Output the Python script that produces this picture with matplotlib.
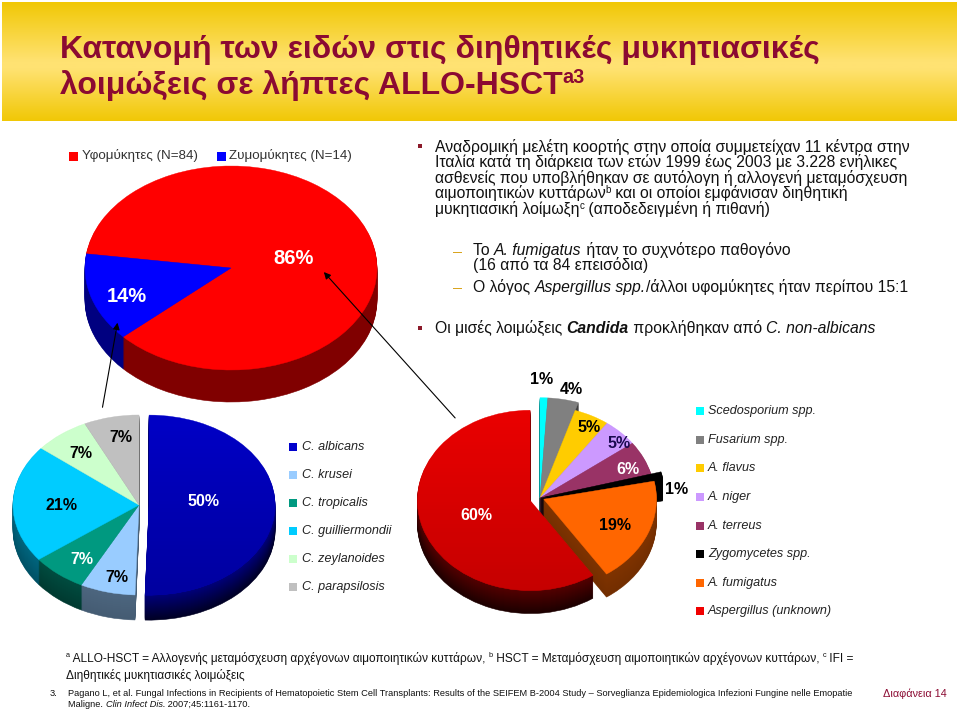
import numpy as np
import matplotlib
matplotlib.use("Agg")
import matplotlib.pyplot as plt
from matplotlib.colors import to_rgb
from matplotlib.patches import Rectangle

plt.rcParams['font.family'] = ['Liberation Sans', 'DejaVu Sans']

W, H = 959, 711

# ---------------      Datos       -------------------------

type_names = ["Υφομύκητες (N=84)", "Ζυμομύκητες (N=14)"]
type_values = [86, 14]
type_colors = ["#ff0000", "#0000ff"]

candida_names = ["C. albicans", "C. krusei", "C. tropicalis", "C. guilliermondii", "C. zeylanoides", "C. parapsilosis"]
candida_values = [50, 7, 7, 21, 7, 7]
candida_colors = ["#0000cc", "#99ccff", "#009980", "#00ccff", "#ccffcc", "#c0c0c0"]

mold_names = ["Scedosporium spp.", "Fusarium spp.", "A. flavus", "A. niger", "A. terreus",
              "Zygomycetes spp.", "A. fumigatus", "Aspergillus (unknown)"]
mold_values = [1, 4, 5, 5, 6, 1, 19, 60]
mold_colors = ["#00ffff", "#808080", "#ffcc00", "#cc99ff", "#993366", "#000000", "#ff6600", "#f00000"]

# posiciones de las etiquetas en pixeles
type_label_pos = [(294, 258), (127, 296)]
type_label_colors = ["white", "white"]
candida_label_pos = [(203, 501), (117, 578), (82, 559), (61, 505), (81, 453), (121, 438)]
candida_label_colors = ["white", "black", "white", "black", "black", "black"]
mold_label_pos = [(542, 379), (571, 390), (589, 427), (619, 443), (628, 469), (677, 490), (615, 525), (476, 516)]
mold_label_colors = ["black", "black", "black", "#1a0a50", "white", "black", "black", "white"]

candida_legend_y = [447, 475, 503, 531, 559, 587]
mold_legend_y = [411, 440, 468, 497, 526, 554, 583, 611]

# ---------------      Figura       -------------------------

fig = plt.figure(figsize=(W / 100, H / 100), dpi=100, facecolor="white")

bg = fig.add_axes([0, 0, 1, 1], zorder=0)
bg.set_xlim(0, W)
bg.set_ylim(H, 0)
bg.axis("off")

over = fig.add_axes([0, 0, 1, 1], zorder=5)
over.set_xlim(0, W)
over.set_ylim(H, 0)
over.axis("off")

renderer = fig.canvas.get_renderer()

# banda del titulo
band = np.interp(np.linspace(0, 1, 120), [0, 0.5, 0.56, 1], [0, 1, 1, 0])
c1, c2 = np.array(to_rgb("#f1c806")), np.array(to_rgb("#ffe272"))
band_img = (c1 + (c2 - c1) * band[:, None])[:, None, :]
bg.imshow(band_img, extent=(2, 957, 121, 2), aspect="auto", zorder=1)
bg.set_xlim(0, W)
bg.set_ylim(H, 0)


def text_width(s, size, **kw):
    t1 = over.text(0, 0, s + "|", fontsize=size, **kw)
    t2 = over.text(0, 0, "|", fontsize=size, **kw)
    w = t1.get_window_extent(renderer).width - t2.get_window_extent(renderer).width
    t1.remove()
    t2.remove()
    return w


def put_runs(x, y, runs, size, color="#111111"):
    # dibuja trozos de texto seguidos con distinto estilo
    for run in runs:
        s = run[0]
        style = dict(run[1]) if len(run) > 1 else {}
        rise = style.pop("rise", 0)
        scale = style.pop("scale", 1)
        over.text(x, y - rise, s, fontsize=size * scale, color=color, va="baseline", ha="left", **style)
        x += text_width(s, size * scale, **style)
    return x


def draw_pie(cx, cy, a, b, depth, values, colors, start, shades, explode=None, radii=None, fade=None):
    R = 1.6
    ax = fig.add_axes([(cx - R * a) / W, 1 - (cy + R * b) / H, 2 * R * a / W, 2 * R * b / H], zorder=2)
    base = np.array([to_rgb(c) for c in colors])
    shades = np.array(shades)
    if explode is None:
        explode = [0] * len(values)
    if radii is None:
        radii = [1] * len(values)
    # cara lateral: capas desde abajo hacia arriba
    for d in np.arange(depth, 0, -1.0):
        f = shades[:, 0] + (shades[:, 1] - shades[:, 0]) * (d / depth)
        walls, _ = ax.pie(values, colors=base * f[:, None], explode=explode, startangle=start,
                          counterclock=False, center=(0, -d / b))
        for w, r in zip(walls, radii):
            w.set_radius(r)
            w.set_edgecolor(w.get_facecolor())
            w.set_linewidth(0.4)
    tops, _ = ax.pie(values, colors=colors, explode=explode, startangle=start, counterclock=False)
    for w, r in zip(tops, radii):
        w.set_radius(r)
        w.set_edgecolor(w.get_facecolor())
        w.set_linewidth(0.3)
    # degradado suave sobre la porcion grande
    if fade is not None:
        idx, amount = fade
        grad = np.zeros((64, 1, 4))
        grad[:, 0, 3] = np.linspace(0, amount, 64)
        im = ax.imshow(grad, extent=(-1.3, 1.3, -1.3, 1.3), aspect="auto", origin="upper", zorder=3)
        im.set_clip_path(tops[idx])
    ax.set_aspect("auto")
    ax.set_xlim(-R, R)
    ax.set_ylim(-R, R)
    ax.axis("off")
    return ax


# ---------------      Tortas       -------------------------

draw_pie(231, 268, 146, 102, 32, type_values, type_colors, 172, [(0.5, 0.5)] * 2)
draw_pie(139, 505, 126, 90, 25, candida_values, candida_colors, 90,
         [(0.6, 0.18), (0.5, 0.45), (0.5, 0.38), (0.5, 0.4), (0.5, 0.5), (0.5, 0.5)],
         explode=[0.08, 0, 0, 0, 0, 0], fade=(0, 0.25))
draw_pie(540, 498, 115, 92, 23, mold_values, mold_colors, 90,
         [(0.5, 0.5)] * 6 + [(0.5, 0.45), (0.35, 0.12)],
         explode=[0, 0, 0, 0, 0, 0, 0.035, 0.09], radii=[1.09, 1.09, 1, 1, 1, 1.09, 0.98, 0.98],
         fade=(7, 0.2))

# etiquetas de porcentaje
for v, (x, y), c in zip(type_values, type_label_pos, type_label_colors):
    over.text(x, y, f"{v}%", color=c, fontsize=14.5, fontweight="bold", ha="center", va="center")
for v, (x, y), c in zip(candida_values, candida_label_pos, candida_label_colors):
    over.text(x, y, f"{v}%", color=c, fontsize=11.5, fontweight="bold", ha="center", va="center")
for v, (x, y), c in zip(mold_values, mold_label_pos, mold_label_colors):
    over.text(x, y, f"{v}%", color=c, fontsize=11.5, fontweight="bold", ha="center", va="center")

# flechas
over.annotate("", xy=(322, 270), xytext=(457, 420), arrowprops=dict(arrowstyle="-|>", color="black", lw=0.8))
over.annotate("", xy=(118, 320), xytext=(102, 410), arrowprops=dict(arrowstyle="-|>", color="black", lw=0.8))

# ---------------      Leyendas       -------------------------

over.add_patch(Rectangle((69, 152), 9, 9, color=type_colors[0], lw=0))
over.text(82, 156, type_names[0], fontsize=9.6, color="#333333", va="center")
over.add_patch(Rectangle((217, 152), 9, 9, color=type_colors[1], lw=0))
over.text(229, 156, type_names[1], fontsize=9.6, color="#333333", va="center")

for name, col, y in zip(candida_names, candida_colors, candida_legend_y):
    over.add_patch(Rectangle((289, y - 4), 8, 8, color=col, lw=0))
    over.text(302, y, name, fontsize=9.05, style="italic", color="#222222", va="center")

for name, col, y in zip(mold_names, mold_colors, mold_legend_y):
    over.add_patch(Rectangle((696, y - 4), 8, 8, color=col, lw=0))
    over.text(708, y, name, fontsize=9.05, style="italic", color="#222222", va="center")

# ---------------      Textos       -------------------------

MAROON = "#8b0a32"
TITLE = dict(fontweight="bold")
put_runs(60, 58, [("Κατανομή των ειδών στις διηθητικές μυκητιασικές", TITLE)], 23, MAROON)
put_runs(60, 94, [("λοιμώξεις σε λήπτες ALLO-HSCT", TITLE),
                  ("a3", dict(fontweight="bold", scale=0.62, rise=11))], 23, MAROON)

SUP = dict(scale=0.62, rise=5)
BODY = 11.35
for y in (146, 328):
    over.add_patch(Rectangle((418, y - 2), 4, 4, color="#8b1a2a", lw=0))
for y in (252, 288):
    over.add_patch(Rectangle((453, y - 0.5), 9, 1.2, color="#d9a520", lw=0))

put_runs(435, 152, [("Αναδρομική μελέτη κοορτής στην οποία συμμετείχαν 11 κέντρα στην",)], BODY)
put_runs(435, 167, [("Ιταλία κατά τη διάρκεια των ετών 1999 έως 2003 με 3.228 ενήλικες",)], BODY)
put_runs(435, 183, [("ασθενείς που υποβλήθηκαν σε αυτόλογη ή αλλογενή μεταμόσχευση",)], BODY)
put_runs(435, 198, [("αιμοποιητικών κυττάρων",), ("b", SUP), (" και οι οποίοι εμφάνισαν διηθητική",)], BODY)
put_runs(435, 214, [("μυκητιασική λοίμωξη",), ("c", SUP), (" (αποδεδειγμένη ή πιθανή)",)], BODY)

ITAL = dict(style="italic")
put_runs(473, 255, [("Το ",), ("A. fumigatus", ITAL), (" ήταν το συχνότερο παθογόνο",)], BODY)
put_runs(473, 270, [("(16 από τα 84 επεισόδια)",)], BODY)
put_runs(473, 292, [("Ο λόγος ",), ("Aspergillus spp.", ITAL), ("/άλλοι υφομύκητες ήταν περίπου 15:1",)], BODY)
put_runs(435, 333, [("Οι μισές λοιμώξεις ",), ("Candida", dict(style="italic", fontweight="bold")),
                    (" προκλήθηκαν από ",), ("C. non-albicans", ITAL)], BODY)

FOOT = 8.55
put_runs(66, 662, [("a", SUP), (" ALLO-HSCT = Αλλογενής μεταμόσχευση αρχέγονων αιμοποιητικών κυττάρων, ",),
                   ("b", SUP), (" HSCT = Μεταμόσχευση αιμοποιητικών αρχέγονων κυττάρων, ",),
                   ("c", SUP), (" IFI =",)], FOOT)
put_runs(66, 679, [("Διηθητικές μυκητιασικές λοιμώξεις",)], FOOT)

REF = 6.69
put_runs(50, 696, [("3.",)], REF)
put_runs(68, 696, [("Pagano L, et al. Fungal Infections in Recipients of Hematopoietic Stem Cell Transplants: "
                    "Results of the SEIFEM B-2004 Study – Sorveglianza Epidemiologica Infezioni Fungine nelle Emopatie",)], REF)
put_runs(68, 707, [("Maligne. ",), ("Clin Infect Dis.", ITAL), (" 2007;45:1161-1170.",)], REF)
put_runs(883, 697, [("Διαφάνεια 14",)], 7.8, MAROON)

fig.savefig("out.png", dpi=100)
